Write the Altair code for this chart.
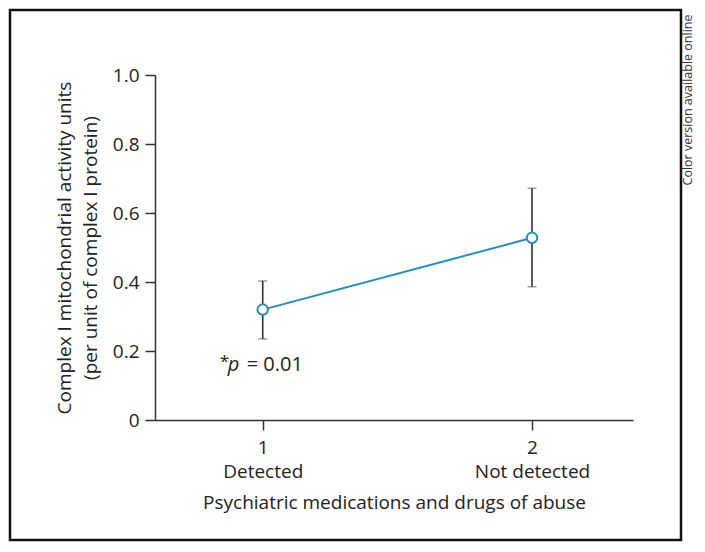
import altair as alt
import pandas as pd

groups = [1, 2]
group_names = ["Detected", "Not detected"]
means = [0.32, 0.528]
upper = [0.403, 0.672]
lower = [0.235, 0.386]

df = pd.DataFrame({"group": groups, "name": group_names, "mean": means, "hi": upper, "lo": lower})

W, H = 478, 345
PL, PT, PR, PB = 147, 67, 64, 124
FONT = "Open Sans"
BLUE = "#1f8fc8"
DARK = "#333333"
FS = 19

xscale = alt.Scale(domain=[0.6, 2.375], nice=False, zero=False)
yscale = alt.Scale(domain=[0, 1], nice=False)

xaxis = alt.Axis(
    values=[1, 2],
    labelExpr="[format(datum.value, 'd'), datum.value == 1 ? 'Detected' : 'Not detected']",
    title="Psychiatric medications and drugs of abuse",
    grid=False, tickSize=10, labelPadding=8, labelLineHeight=24,
    titlePadding=12,
)
yaxis = alt.Axis(
    values=[0, 0.2, 0.4, 0.6, 0.8, 1.0],
    labelExpr="datum.value == 0 ? '0' : format(datum.value, '.1f')",
    title=["Complex I mitochondrial activity units", "(per unit of complex I protein)"],
    grid=False, tickSize=10, labelPadding=6, titlePadding=12, titleLineHeight=26,
)

X = alt.X("group:Q", scale=xscale, axis=xaxis)
Y = alt.Y("mean:Q", scale=yscale, axis=yaxis)

base = alt.Chart(df)

line = base.mark_line(color=BLUE, strokeWidth=2).encode(x=X, y=Y)

err = base.mark_errorbar(ticks={"size": 9, "color": DARK, "strokeWidth": 1.6}, color=DARK,
                         rule={"strokeWidth": 1.6, "color": DARK}).encode(
    x=alt.X("group:Q", scale=xscale, axis=xaxis),
    y=alt.Y("lo:Q", scale=yscale, axis=yaxis),
    y2="hi:Q",
)

pts = base.mark_point(shape="circle", filled=True, fill="white", stroke=BLUE, strokeWidth=2,
                      size=110, opacity=1).encode(x=X, y=Y)

ann_df = pd.DataFrame({"gx": [1], "gy": [0.16]})
ann = alt.Chart(ann_df)
AX = alt.X("gx:Q", scale=xscale, axis=xaxis)
AY = alt.Y("gy:Q", scale=yscale, axis=yaxis)
star = ann.mark_text(text="*", align="left", baseline="middle", dx=-43, dy=-3, font=FONT,
                     fontSize=17, color="#222").encode(x=AX, y=AY)
pital = ann.mark_text(text="p", align="left", baseline="middle", dx=-35, font=FONT, fontSize=20,
                      fontStyle="italic", color="#222").encode(x=AX, y=AY)
rest = ann.mark_text(text="= 0.01", align="left", baseline="middle", dx=-16, font=FONT, fontSize=20,
                     color="#222").encode(x=AX, y=AY)

frame = alt.Chart(ann_df).mark_rect(fill=None, stroke="#111", strokeWidth=2.5).encode(
    x=alt.value(-PL + 2), x2=alt.value(W + PR - 16),
    y=alt.value(-PT + 2), y2=alt.value(H + PB - 4),
)

note = alt.Chart(ann_df).mark_text(text="Color version available online", angle=270, align="center",
                                   baseline="middle", font=FONT, fontSize=12.5, color="#333").encode(
    x=alt.value(W + PR - 9), y=alt.value(25),
)

chart = alt.layer(line, err, pts, star, pital, rest, frame, note).properties(
    width=W, height=H,
    padding={"left": PL, "top": PT, "right": PR, "bottom": PB},
    autosize=alt.AutoSizeParams(type="none"),
    background="white",
).configure_view(stroke=None).configure_axis(
    domainColor=DARK, domainWidth=1.5, tickColor=DARK, tickWidth=1.5,
    labelFont=FONT, labelFontSize=FS, labelColor="#222",
    titleFont=FONT, titleFontSize=FS, titleFontWeight="normal", titleColor="#222",
)

chart.save("out.html", embed_options={"renderer": "svg", "actions": False})
